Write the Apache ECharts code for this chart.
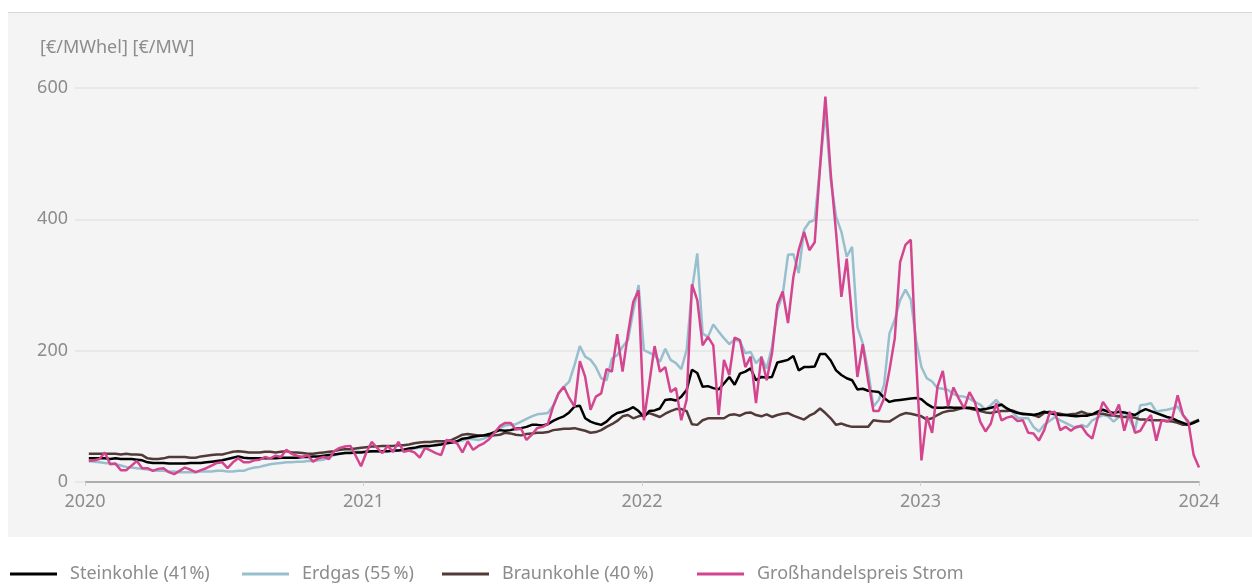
<!DOCTYPE html>
<html>
<head>
<meta charset="utf-8">
<script src="https://cdn.jsdelivr.net/npm/echarts@6/dist/echarts.min.js"></script>
<style>
html, body { margin: 0; padding: 0; background: #fff; }
#chart { width: 1252px; height: 584px; }
</style>
</head>
<body>
<div id="chart"></div>
<script>
// Wochenwerte 06.01.2020 - 01.01.2024
const yearTicks = [2020, 2021, 2022, 2023, 2024]
const valueTicks = [0, 200, 400, 600]
const names = ['Steinkohle (41%)', 'Erdgas (55\u2009%)', 'Braunkohle (40\u2009%)', 'Großhandelspreis Strom']

const steinkohle = [
  36,36,36,36,35,36,35,35,35,34, 33,30,29,29,29,28,28,28,28,29,
  29,29,30,31,32,33,35,37,39,37, 36,36,36,36,36,36,37,37,37,37,
  38,38,39,39,40,41,42,43,44,44, 45,45,46,47,47,47,47,48,48,49,
  51,52,54,55,55,56,57,59,60,62, 66,67,69,70,71,73,76,79,78,79,
  81,82,84,87,87,86,88,93,97,100, 106,115,116,97,92,89,87,92,100,105,
  107,110,114,108,99,108,109,112,125,126, 124,130,140,171,166,145,146,143,141,150,
  160,148,165,168,173,155,160,159,160,182, 184,186,192,170,175,175,176,195,195,185,
  170,163,158,155,141,142,139,138,137,128, 122,124,125,126,127,128,126,119,114,113,
  113,114,113,113,113,113,112,110,111,113, 115,118,112,108,105,104,103,102,104,107,
  105,103,102,102,101,100,101,101,103,107, 110,107,105,107,106,104,102,107,111,108,
  105,102,99,97,93,90,87,90,94
]
const erdgas = [
  32,31,30,29,28,27,25,23,22,21, 20,19,18,17,17,16,16,15,15,15,
  15,16,16,16,17,17,16,16,17,17, 20,22,23,25,27,28,29,30,30,31,
  31,32,32,33,34,38,41,43,44,45, 46,46,46,46,46,47,47,47,48,49,
  50,51,52,53,55,57,58,59,60,62, 63,66,65,64,66,70,76,82,86,87,
  88,92,96,100,103,104,105,116,135,145, 153,178,207,191,186,175,158,155,188,193,
  206,216,260,300,201,197,193,183,203,186, 181,172,201,292,348,226,221,240,229,219,
  210,217,214,196,198,181,190,173,206,262, 285,346,347,318,384,396,399,480,565,460,
  404,381,343,358,236,211,170,115,125,148, 226,247,277,293,278,216,175,158,153,143,
  142,140,134,131,130,127,122,118,110,117, 125,116,112,107,98,97,97,84,77,87,
  93,99,94,90,86,82,87,84,94,98, 102,100,92,99,107,95,79,117,118,120,
  107,109,110,112,115,102,89,92,93
]
const braunkohle = [
  43,43,43,43,43,43,42,43,42,42, 41,36,35,35,36,38,38,38,38,37,
  37,39,40,41,42,42,44,46,47,46, 45,45,45,46,46,45,46,47,45,45,
  44,43,43,44,45,46,47,49,50,50, 51,52,53,54,54,55,55,55,56,56,
  57,59,60,61,61,62,62,62,64,68, 72,73,72,71,71,70,71,72,75,74,
  72,71,73,74,75,75,76,79,80,81, 81,82,80,78,75,76,79,84,88,93,
  100,102,97,100,102,105,102,99,104,108, 111,111,108,88,87,94,97,97,97,97,
  102,103,101,105,106,102,100,103,99,102, 104,105,101,98,95,101,105,112,105,97,
  87,89,86,84,84,84,84,94,93,92, 92,97,102,105,104,102,100,95,97,102,
  106,108,109,111,113,112,110,108,106,105, 107,108,108,109,106,103,103,102,99,105,
  107,105,104,102,103,104,107,104,103,104, 104,102,101,100,99,99,98,95,95,94,
  94,94,93,92,90,87,87,91,95
]
const strom = [
  32,33,35,45,27,28,18,18,25,32, 21,21,17,20,21,15,12,17,22,19,
  15,18,21,25,29,30,21,30,36,30, 30,33,34,38,36,40,38,49,43,40,
  38,41,31,36,38,35,47,52,54,55, 40,24,45,61,52,44,55,46,61,46,
  48,45,37,52,48,44,41,64,62,59, 45,62,49,55,59,65,75,85,90,90,
  80,81,64,72,82,84,88,115,135,145, 128,115,184,160,110,130,135,172,168,225,
  168,225,274,292,94,150,207,168,175,137, 143,94,125,301,277,208,221,208,102,186,
  163,220,216,175,191,120,191,155,196,270, 290,242,312,353,381,353,365,480,587,470,
  380,282,340,250,160,210,155,108,108,127, 170,219,335,361,369,186,33,100,75,145,
  169,115,144,127,112,137,122,92,77,89, 120,94,98,100,93,94,75,74,63,79,
  105,107,79,84,78,84,85,73,66,97, 122,110,100,118,78,107,75,78,92,102,
  63,94,92,97,132,102,92,41,22
]

const colors = ['#000000', '#98bfcd', '#523a38', '#d3468f']
const font = '"Noto Sans", sans-serif'
const grey = '#8c8c8c'

// Wochen als Jahresbruchteil (6. Jan. 2020 = Tag 5)
const xYears = steinkohle.map((v, i) => 2020 + (5 + 7 * i) / 365.25)
const pairs = arr => arr.map((v, i) => [xYears[i], v])

const chart = echarts.init(document.getElementById('chart'))

function legendItem(name, left) {
  return {
    left: left,
    top: 565,
    padding: 0,
    icon: 'rect',
    itemWidth: 47,
    itemHeight: 3,
    data: [name],
    textStyle: { color: grey, fontSize: 18, fontFamily: font, padding: [0, 0, 0, 8] }
  }
}

function line(name, data, color) {
  return {
    name: name,
    type: 'line',
    data: pairs(data),
    showSymbol: false,
    symbol: 'none',
    lineStyle: { color: color, width: 2.5 },
    itemStyle: { color: color },
    emphasis: { disabled: true },
    animation: false
  }
}

const option = {
  animation: false,
  textStyle: { fontFamily: font },
  graphic: [
    { type: 'rect', z: -10, silent: true, shape: { x: 8, y: 12, width: 1244, height: 525 }, style: { fill: '#f4f4f4' } },
    { type: 'line', z: -9, silent: true, shape: { x1: 8, y1: 12.5, x2: 1252, y2: 12.5 }, style: { stroke: '#d8d8d8', lineWidth: 1 } },
    { type: 'text', left: 40, top: 39, style: { text: '[€/MWhel] [€/MW]', fill: grey, font: '18px ' + font } }
  ],
  legend: [
    legendItem(names[0], 10),
    legendItem(names[1], 242),
    legendItem(names[2], 442),
    legendItem(names[3], 697)
  ],
  grid: { left: 85, right: 53, top: 88, bottom: 102 },
  xAxis: {
    type: 'value',
    min: yearTicks[0],
    max: yearTicks[yearTicks.length - 1],
    interval: 1,
    axisLine: { lineStyle: { color: '#adadad', width: 2 } },
    axisTick: { show: true, length: 4, lineStyle: { color: '#d0d0d0' } },
    splitLine: { show: false },
    axisLabel: { color: grey, fontSize: 18, margin: 11, formatter: v => String(v), showMinLabel: true, showMaxLabel: true }
  },
  yAxis: {
    type: 'value',
    min: valueTicks[0],
    max: valueTicks[valueTicks.length - 1],
    interval: 200,
    axisLine: { show: false },
    axisTick: { show: true, length: 10, lineStyle: { color: '#e8e8e8', width: 2 } },
    splitLine: { lineStyle: { color: '#e8e8e8', width: 2 } },
    axisLabel: { color: grey, fontSize: 18, margin: 17 }
  },
  series: [
    line(names[1], erdgas, colors[1]),
    line(names[2], braunkohle, colors[2]),
    line(names[0], steinkohle, colors[0]),
    line(names[3], strom, colors[3])
  ]
}

chart.setOption(option)
</script>
</body>
</html>
